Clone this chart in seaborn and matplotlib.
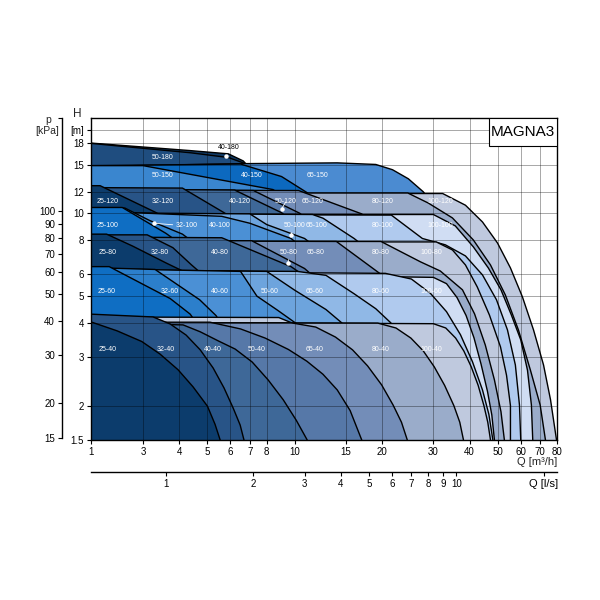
import numpy as np
import matplotlib
matplotlib.use("Agg")
import matplotlib.pyplot as plt
from matplotlib.patches import Rectangle
from matplotlib.ticker import NullLocator
import seaborn as sns

# ---------------- data (Q in m3/h, H in m) ----------------
q_40_180 = [1, 4.36, 5.9, 6.64, 7.0]
h_40_180 = [18.0, 16.9, 16.45, 15.5, 14.6]
q_50_180 = [1, 4.36, 5.9, 6.64, 7.0]
h_50_180 = [17.95, 16.6, 15.95, 15.25, 14.6]

q_65_150 = [1, 6.5, 14, 19, 21.7, 24.6, 27.7, 29.7]
h_65_150 = [14.8, 15.15, 15.25, 15.05, 14.4, 13.35, 11.97, 10.9]
q_40_150 = [1, 6.5, 9.0, 11.0, 11.8]
h_40_150 = [14.9, 15.1, 13.6, 11.9, 11.2]
q_50_150 = [1, 3.0, 8.4, 9.2]
h_50_150 = [14.9, 14.9, 12.2, 11.5]

q_100_120 = [1, 32.3, 38.7, 44.3, 49.9, 55.3, 60.8, 66.4, 71.9, 76.0, 79.7]
h_100_120 = [11.8, 11.8, 10.7, 9.3, 7.8, 6.33, 4.97, 3.77, 2.81, 2.1, 1.5]
q_80_120 = [1, 24.5, 28.8, 34.9, 41.2, 47.2, 53.1, 58.9, 64.8, 70.0, 73.0]
h_80_120 = [11.85, 11.85, 10.9, 9.62, 8.0, 6.49, 5.05, 3.77, 2.69, 2.01, 1.5]
q_65_120 = [1, 10.3, 17, 18]
h_65_120 = [12.15, 12.1, 9.95, 9.4]
q_50_120 = [1, 7.2, 10.4, 11.0]
h_50_120 = [12.2, 12.1, 10.0, 9.5]
q_40_120 = [1, 6.2, 9.0, 9.6]
h_40_120 = [12.25, 12.15, 10.05, 9.5]
q_32_120 = [1, 4.1, 5.75, 6.2]
h_32_120 = [12.4, 12.35, 10.0, 9.5]
q_25_120 = [1, 1.35, 3.3, 3.6]
h_25_120 = [12.6, 12.6, 10.1, 9.6]

q_100_100 = [1, 30, 35.7, 41.2, 46.4, 51.3, 55.7, 60, 63.3, 65.3, 66]
h_100_100 = [9.9, 9.9, 9.0, 7.55, 6.33, 5.27, 4.27, 3.47, 2.69, 2.01, 1.5]
q_80_100 = [1, 21.5, 27.5, 33.0, 38.7, 44.3, 49.5, 54.0, 57.5, 59.4, 60.0]
h_80_100 = [9.9, 9.85, 8.1, 7.68, 7.0, 5.97, 4.85, 3.77, 2.81, 2.01, 1.5]
q_65_100 = [1, 11.5, 12.5, 16, 17]
h_65_100 = [10.0, 9.9, 9.6, 8.1, 7.7]
q_50_100 = [1, 7.0, 8.0, 10.8, 11.5]
h_50_100 = [10.05, 9.95, 9.1, 8.1, 7.7]
q_40_100 = [1, 5.6, 7.0, 9.7, 10.3]
h_40_100 = [10.2, 9.75, 9.2, 8.1, 7.7]
q_32_100 = [1, 2.3, 3.17, 4.1, 4.5]
h_32_100 = [10.45, 10.45, 9.4, 8.4, 7.8]
q_25_100 = [1, 2.2, 3.6, 4.0]
h_25_100 = [10.5, 10.5, 8.45, 7.8]

q_100_80 = [1, 30.7, 34.9, 38.7, 42.5, 46.8, 51.1, 53.6, 55.3]
h_100_80 = [7.87, 7.87, 7.36, 6.49, 5.4, 4.27, 3.27, 2.58, 2.0]
q_80_80 = [1, 19.8, 27.1, 31.7, 37.8, 41.6, 45.3, 48.7, 51.3, 52.7]
h_80_80 = [7.9, 7.9, 6.66, 6.17, 5.27, 4.31, 3.32, 2.48, 1.9, 1.5]
q_65_80 = [1, 13.9, 19.8, 21]
h_65_80 = [7.95, 7.9, 6.0, 5.5]
q_50_80 = [1, 7.1, 10.8, 11.6, 12.2]
h_50_80 = [7.95, 7.95, 6.3, 5.9, 5.4]
q_40_80 = [1, 5.6, 9.7, 10.6, 11.2]
h_40_80 = [8.2, 8.15, 6.4, 6.0, 5.4]
q_32_80 = [1, 3.1, 3.8, 4.4, 4.8, 5.1]
h_32_80 = [8.35, 8.35, 7.5, 6.5, 6.0, 5.4]
q_25_80 = [1, 1.6, 2.6, 3.6, 4.2, 4.6]
h_25_80 = [8.4, 8.4, 7.6, 6.6, 6.1, 5.4]

q_100_60 = [1, 30, 33.3, 36.2, 38.9, 41.4, 43.8, 46.1, 47.7, 48.7]
h_100_60 = [6.1, 5.85, 5.55, 4.94, 4.25, 3.53, 2.83, 2.25, 1.85, 1.5]
q_80_60 = [1, 20.5, 25.2, 29.3, 33.3, 37.2, 40.9, 44.3, 46.6, 48.1]
h_80_60 = [6.15, 6.05, 5.77, 5.12, 4.39, 3.62, 2.89, 2.28, 1.86, 1.5]
q_65_60 = [1, 10.2, 12.8, 16, 19, 21.4, 23]
h_65_60 = [6.2, 6.15, 5.95, 5.1, 4.5, 4.0, 3.6]
q_50_60 = [1, 8.0, 10.0, 12.8, 14.5, 15.5]
h_50_60 = [6.25, 6.15, 5.25, 4.47, 4.0, 3.6]
q_40_60 = [1, 6.5, 7.4, 8.7, 10.2, 11]
h_40_60 = [6.3, 6.15, 5.0, 4.45, 3.95, 3.5]
q_32_60 = [1, 3.3, 4.7, 5.35, 5.9]
h_32_60 = [6.35, 6.25, 4.85, 4.25, 3.6]
q_25_60 = [1, 1.7, 3.72, 4.36, 4.9]
h_25_60 = [6.4, 6.4, 4.9, 4.3, 3.6]

q_100_40 = [1, 8.8, 9.8, 30, 33.1, 35.8, 38.2, 40.5, 42.8, 44.8, 46.2, 47.2]
h_100_40 = [4.2, 4.18, 3.99, 3.97, 3.83, 3.52, 3.16, 2.77, 2.37, 2.0, 1.74, 1.5]
q_80_40 = [1, 19.3, 22.3, 25.1, 27.7, 30.2, 32.8, 35.3, 37.0, 38.1]
h_80_40 = [4.0, 3.99, 3.83, 3.52, 3.16, 2.77, 2.37, 2.0, 1.74, 1.5]
q_65_40 = [1, 9.7, 11.8, 13.8, 15.8, 17.8, 19.9, 21.8, 23.3, 24.4]
h_65_40 = [4.0, 4.0, 3.86, 3.55, 3.19, 2.79, 2.38, 2.01, 1.74, 1.5]
q_50_40 = [1, 5.1, 6.5, 7.9, 9.5, 11.0, 12.5, 14.0, 15.5, 17]
h_50_40 = [4.02, 4.02, 3.8, 3.52, 3.2, 2.9, 2.6, 2.28, 1.92, 1.5]
q_40_40 = [1, 4.12, 4.72, 5.44, 6.23, 7.13, 8.09, 9.12, 10.11, 11.03]
h_40_40 = [4.0, 3.93, 3.71, 3.44, 3.21, 2.88, 2.48, 2.1, 1.77, 1.5]
q_32_40 = [1, 3.25, 3.72, 4.22, 4.72, 5.23, 5.7, 6.13, 6.48, 6.68]
h_32_40 = [4.3, 4.2, 3.96, 3.61, 3.19, 2.74, 2.32, 1.96, 1.70, 1.5]
q_25_40 = [1, 2.0, 2.95, 3.43, 3.96, 4.46, 5.0, 5.31, 5.53]
h_25_40 = [4.03, 3.74, 3.42, 3.08, 2.7, 2.34, 1.99, 1.71, 1.5]

# labels inside regions
lab_names = ["25-40", "32-40", "40-40", "50-40", "65-40", "80-40", "100-40",
             "25-60", "32-60", "40-60", "50-60", "65-60", "80-60", "100-60",
             "25-80", "32-80", "40-80", "65-80", "80-80", "100-80",
             "25-100", "40-100", "65-100", "80-100", "100-100",
             "25-120", "32-120", "40-120", "65-120", "80-120", "100-120",
             "50-150", "40-150", "65-150", "50-180"]
lab_q = [1.62, 3.6, 5.2, 7.4, 11.7, 19.7, 29.6,
         1.6, 3.7, 5.5, 8.2, 11.7, 19.7, 29.6,
         1.62, 3.43, 5.5, 11.8, 19.7, 29.6,
         1.65, 5.5, 11.9, 20.0, 31.6,
         1.62, 3.5, 6.48, 11.5, 20.0, 31.6,
         3.5, 7.1, 12.0, 3.5]
lab_h = [3.21] * 7 + [5.18] * 7 + [7.18] * 6 + [9.0] * 5 + [11.0] * 6 + [13.7] * 3 + [16.0]

# labels with pointers
ptr_names = ["40-180", "32-100", "50-120", "50-100", "50-80"]
ptr_text_q = [5.9, 4.25, 9.3, 9.95, 9.55]
ptr_text_h = [17.35, 9.0, 11.0, 9.0, 7.18]
ptr_dot_q = [5.8, 3.27, 9.02, 9.7, 9.48]
ptr_dot_h = [16.2, 9.2, 10.4, 8.34, 6.6]
ptr_colors = ["black", "white", "white", "white", "white"]

# axes ticks
x_ticks = [1, 3, 4, 5, 6, 7, 8, 10, 15, 20, 30, 40, 50, 60, 70, 80]
y_ticks = [1.5, 2, 3, 4, 5, 6, 8, 10, 12, 15, 18, 20]
y_tick_labels = ["1.5", "2", "3", "4", "5", "6", "8", "10", "12", "15", "18", "[m]"]
p_ticks = [15, 20, 30, 40, 50, 60, 70, 80, 90, 100]
p_tick_labels = ["15", "20", "30", "40", "50", "60", "70", "80", "90", "100"]
ls_ticks = [1, 2, 3, 4, 5, 6, 7, 8, 9, 10, 20]
ls_tick_labels = ["1", "2", "3", "4", "5", "6", "7", "8", "9", "10", "Q [l/s]"]

DARK = {"25": "#0c3c6c", "32": "#285487", "40": "#3e6898", "50": "#5678a8",
        "65": "#738db8", "80": "#9aacca", "100": "#bfc9de"}
BRIGHT = {"25": "#0f6ec3", "32": "#2c7fcb", "40": "#4b90d5", "50": "#6da4dd",
          "65": "#90b8e6", "80": "#b0caee", "100": "#d0ddf3"}

# ---------------- style ----------------
sns.set_theme(style="white")
plt.rcParams["font.family"] = ["Liberation Sans", "DejaVu Sans"]

LOG3 = np.log10(3.0)
K = 0.0897  # broken segment between 1 and 3 m3/h


def fwd(x):
    x = np.asarray(x, dtype=float)
    lg = np.log10(np.clip(x, 1e-6, None))
    return np.where(x >= 3.0, lg, LOG3 - (3.0 - x) * K)


def inv(y):
    y = np.asarray(y, dtype=float)
    return np.where(y >= LOG3, np.power(10.0, np.clip(y, None, 10)),
                    3.0 - (LOG3 - y) / K)


g = globals()


def curve(name, color):
    a, b = name.split("-")
    return (name, g["q_%s_%s" % (a, b)], g["h_%s_%s" % (a, b)], color)


curves = [curve("40-180", "#0f3a66"), curve("50-180", "#1f4d7f"),
          curve("65-150", "#4b8bd1"), curve("40-150", "#0c69bf"),
          curve("50-150", "#3a86cf")]
for row, pal in [("120", DARK), ("100", BRIGHT), ("80", DARK), ("60", BRIGHT), ("40", DARK)]:
    for size in ["100", "80", "65", "50", "40", "32", "25"]:
        curves.append(curve(size + "-" + row, pal[size]))

H_MIN, H_MAX = 1.5, 22.2
Q_MIN, Q_MAX = 1, 80

fig = plt.figure(figsize=(6, 6), dpi=100)
L, R, B, T = 91 / 600, 557 / 600, 1 - 440 / 600, 1 - 118 / 600
ax = fig.add_axes([L, B, R - L, T - B])
ax.set_xscale("function", functions=(fwd, inv))
ax.set_yscale("log")

for i, (name, q, h, col) in enumerate(curves):
    z = 1 + i * 0.01
    ax.fill(list(q) + [q[-1], q[0]], list(h) + [H_MIN, H_MIN], color=col, lw=0, zorder=z)
    sns.lineplot(x=list(q) + [q[-1]], y=list(h) + [H_MIN], ax=ax, color="black",
                 linewidth=1.0, sort=False, estimator=None, legend=False, zorder=z + 0.005)

for name, q, h in zip(lab_names, lab_q, lab_h):
    ax.text(q, h, name, color="white", fontsize=5, ha="center", va="center", zorder=3)

for name, tq, th, dq, dh, c in zip(ptr_names, ptr_text_q, ptr_text_h, ptr_dot_q, ptr_dot_h, ptr_colors):
    ax.annotate(name, xy=(dq, dh), xytext=(tq, th), textcoords="data", color=c,
                fontsize=5, ha="center", va="center", zorder=3,
                arrowprops=dict(arrowstyle="-", color=c, lw=0.6, shrinkA=0, shrinkB=0))
    ax.plot([dq], [dh], marker="o", ms=2.2, mfc="white", mec="white", ls="none", zorder=3.1)

ax.set_xlim(Q_MIN, Q_MAX)
ax.set_ylim(H_MIN, H_MAX)
ax.set_xticks(x_ticks, labels=[str(v) for v in x_ticks])
ax.set_yticks(y_ticks, labels=y_tick_labels)
ax.xaxis.set_minor_locator(NullLocator())
ax.yaxis.set_minor_locator(NullLocator())
ax.tick_params(axis="both", which="major", direction="out", length=3, width=0.8,
               labelsize=7, colors="black", pad=2, bottom=True, left=True)
ax.set_xlabel("")
ax.set_ylabel("")
ax.set_axisbelow(False)
ax.grid(True, which="major", color="black", alpha=0.4, linewidth=0.6)
for s in ax.spines.values():
    s.set_visible(True)
    s.set_color("black")
    s.set_linewidth(1.0)

# MAGNA3 box
ax.add_patch(Rectangle((0.854, 0.913), 0.146, 0.087, transform=ax.transAxes,
                       fc="white", ec="black", lw=0.8, zorder=4))
ax.text(0.927, 0.9565, "MAGNA3", transform=ax.transAxes, ha="center", va="center",
        fontsize=11, zorder=5, color="black")

# l/s axis
ax_ls = fig.add_axes([L, 1 - 471.7 / 600, R - L, 0.0001])
ax_ls.set_xscale("function", functions=(fwd, inv))
ax_ls.set_xlim(Q_MIN, Q_MAX)
ax_ls.set_facecolor("none")
ax_ls.set_yticks([])
ax_ls.set_xticks([v * 3.6 for v in ls_ticks], labels=ls_tick_labels)
ax_ls.xaxis.set_minor_locator(NullLocator())
ax_ls.tick_params(axis="x", direction="out", length=3, width=0.8, labelsize=7,
                  colors="black", pad=2, bottom=True)
ax_ls.get_xticklabels()[-1].set_fontsize(8)
for k in ["top", "left", "right"]:
    ax_ls.spines[k].set_visible(False)
ax_ls.spines["bottom"].set_color("black")
ax_ls.spines["bottom"].set_linewidth(1.0)
ax_ls.grid(False)

# p [kPa] axis
P_MIN, P_MAX = H_MIN * 9.81, H_MAX * 9.81
ax_p = fig.add_axes([62 / 600, B, 0.0001, T - B])
ax_p.set_yscale("log")
ax_p.set_ylim(P_MIN, P_MAX)
ax_p.set_facecolor("none")
ax_p.set_xticks([])
ax_p.set_yticks(p_ticks + [P_MAX * 0.999], labels=p_tick_labels + [""])
ax_p.yaxis.set_minor_locator(NullLocator())
ax_p.tick_params(axis="y", direction="out", length=3, width=0.8, labelsize=7,
                 colors="black", pad=2, left=True)
for k in ["top", "bottom", "right"]:
    ax_p.spines[k].set_visible(False)
ax_p.spines["left"].set_color("black")
ax_p.spines["left"].set_linewidth(1.0)
ax_p.spines["left"].set_bounds(15, P_MAX)
ax_p.grid(False)

fig.text(77 / 600, 1 - 114 / 600, "H", ha="center", va="center", fontsize=8.5)
fig.text(48 / 600, 1 - 120 / 600, "p", ha="center", va="center", fontsize=7.5)
fig.text(47 / 600, 1 - 131 / 600, "[kPa]", ha="center", va="center", fontsize=7.5)
fig.text(557 / 600, 1 - 462 / 600, "Q [m\u00b3/h]", ha="right", va="center", fontsize=8)

fig.savefig("out.png", dpi=100, facecolor="white")
